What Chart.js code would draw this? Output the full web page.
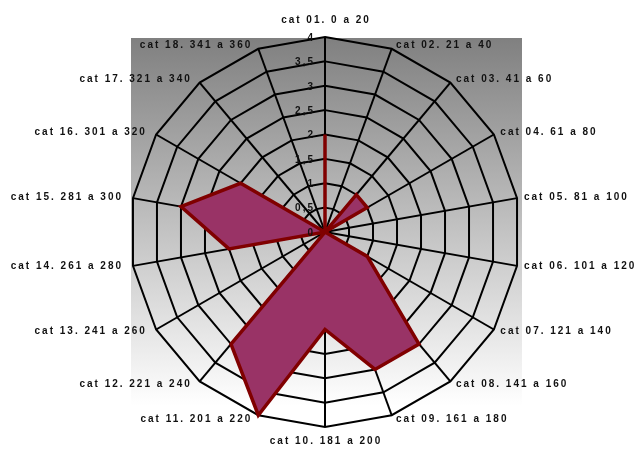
<!DOCTYPE html>
<html>
<head>
<meta charset="utf-8">
<script src="https://cdn.jsdelivr.net/npm/chart.js@4.4.0/dist/chart.umd.min.js"></script>
<style>
  html, body { margin: 0; padding: 0; background: #ffffff; }
  #wrap { width: 642px; height: 450px; position: relative; }
</style>
</head>
<body>
<div id="wrap"><canvas id="c" width="642" height="450"></canvas></div>
<script>
const categories = [
  "cat 01. 0 a 20", "cat 02. 21 a 40", "cat 03. 41 a 60", "cat 04. 61 a 80",
  "cat 05. 81 a 100", "cat 06. 101 a 120", "cat 07. 121 a 140", "cat 08. 141 a 160",
  "cat 09. 161 a 180", "cat 10. 181 a 200", "cat 11. 201 a 220", "cat 12. 221 a 240",
  "cat 13. 241 a 260", "cat 14. 261 a 280", "cat 15. 281 a 300", "cat 16. 301 a 320",
  "cat 17. 321 a 340", "cat 18. 341 a 360"
];
const seriesValues = [2, 0, 1, 1, 0, 0, 1, 3, 3, 2, 4, 3, 0, 2, 3, 2, 0, 0];
const tickValues = [0, 0.5, 1, 1.5, 2, 2.5, 3, 3.5, 4];
const tickLabels = ["0", "0,5", "1", "1,5", "2", "2,5", "3", "3,5", "4"];

const decorPlugin = {
  id: 'decor',
  beforeDraw(chart) {
    const s = chart.scales.r;
    const ctx = chart.ctx;
    const r = s.drawingArea;
    const x0 = s.xCenter - r + 1, x1 = s.xCenter + r + 2;
    const y0 = s.yCenter - r + 1, y1 = s.yCenter + r * 0.89;
    const g = ctx.createLinearGradient(0, y0, 0, y1);
    g.addColorStop(0, '#808080');
    g.addColorStop(1, '#ffffff');
    ctx.save();
    ctx.fillStyle = g;
    ctx.fillRect(x0, y0, x1 - x0, y1 - y0);
    ctx.restore();
  },
  afterDraw(chart) {
    const s = chart.scales.r;
    const ctx = chart.ctx;
    ctx.save();
    ctx.letterSpacing = '2px';
    ctx.font = 'bold 10px "Liberation Sans", Arial, sans-serif';
    ctx.fillStyle = '#111111';
    ctx.textBaseline = 'middle';
    // point labels
    const labels = chart.data.labels;
    const n = labels.length;
    const r = s.drawingArea;
    for (let i = 0; i < n; i++) {
      const p = s.getPointPosition(i, r);
      const dx = p.x - s.xCenter;
      const dy = p.y - s.yCenter;
      let x = p.x, y = p.y;
      if (Math.abs(dx) < 1) {
        ctx.textAlign = 'center';
        x = p.x + 1;
        y = dy < 0 ? p.y - 17 : p.y + 14;
      } else if (dx > 0) {
        ctx.textAlign = 'left';
        x = p.x + 3 + 4 * Math.abs(dx / r);
        y = p.y + (dy / r) * 4;
      } else {
        ctx.textAlign = 'right';
        x = p.x - 4 - 6 * Math.abs(dx / r);
        y = p.y + (dy / r) * 4;
      }
      ctx.fillText(labels[i], x, y);
    }
    // tick labels
    ctx.textAlign = 'right';
    for (let k = 0; k < tickValues.length; k++) {
      const d = s.getDistanceFromCenterForValue(tickValues[k]);
      ctx.fillText(tickLabels[k], s.xCenter - 10, s.yCenter - d + 1);
    }
    ctx.restore();
  }
};

new Chart(document.getElementById('c'), {
  type: 'radar',
  data: {
    labels: categories,
    datasets: [{
      data: seriesValues,
      fill: true,
      backgroundColor: '#993366',
      borderColor: '#800000',
      borderWidth: 3.5,
      pointRadius: 0,
      pointHoverRadius: 0,
      tension: 0
    }]
  },
  options: {
    responsive: false,
    animation: false,
    devicePixelRatio: 1,
    layout: { padding: { left: 130, right: 122, top: 37, bottom: 23 } },
    plugins: { legend: { display: false }, tooltip: { enabled: false } },
    scales: {
      r: {
        min: 0,
        max: 4,
        ticks: { stepSize: 0.5, display: false },
        pointLabels: { display: false },
        grid: { color: '#000000', lineWidth: 2, circular: false },
        angleLines: { color: '#000000', lineWidth: 2 }
      }
    }
  },
  plugins: [decorPlugin]
});
</script>
</body>
</html>
